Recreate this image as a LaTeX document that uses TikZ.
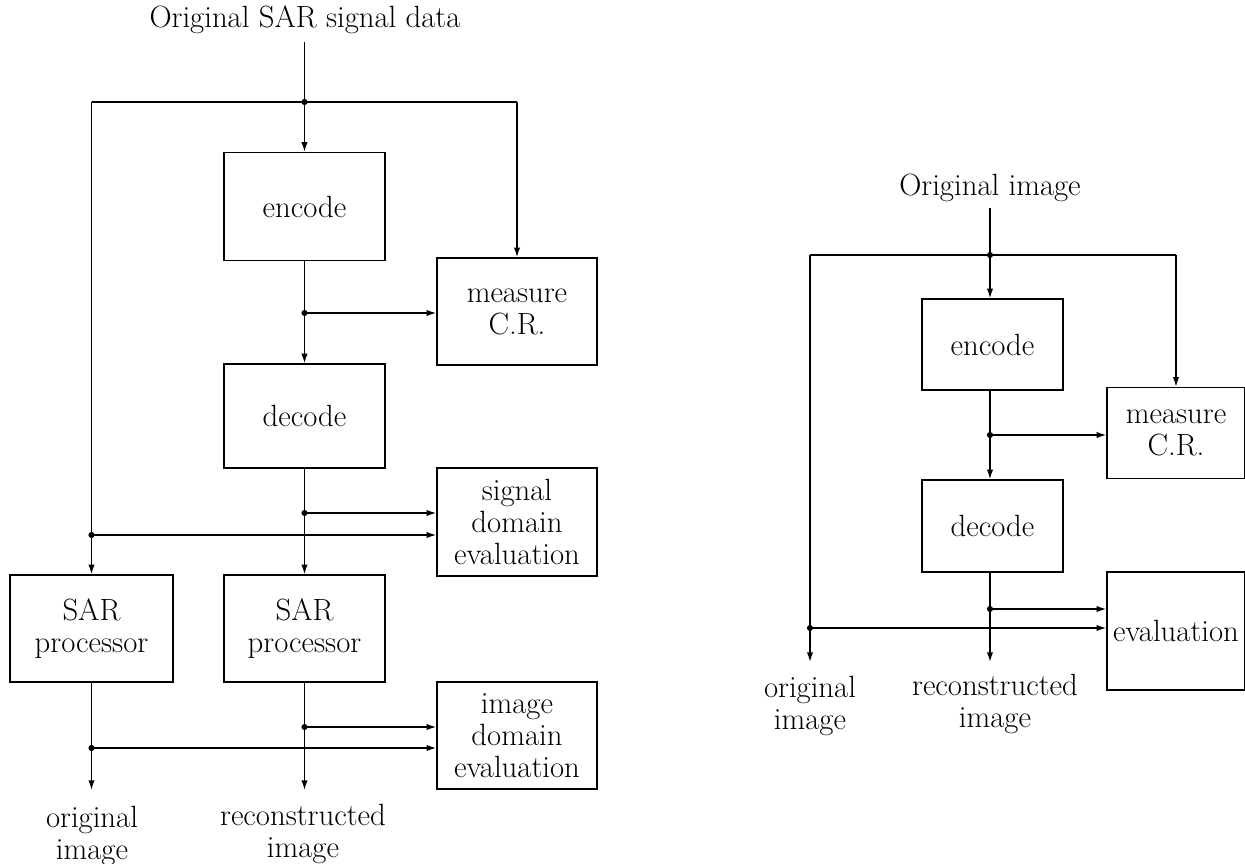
\documentclass[tikz,border=0pt]{standalone}
\usepackage{tikz}
\usetikzlibrary{arrows.meta,positioning}

\begin{document}
\begin{tikzpicture}[x=0.02cm,y=-0.02cm]
	\tikzstyle{common} = [draw, line width=0.8pt, align=center, inner sep=0.2em, font=\fontsize{17.5}{18.2}\selectfont]
	\tikzstyle{block} = [rectangle, common, minimum width=3.22cm, minimum height=2.16cm]
	\tikzstyle{sideblock} = [block, minimum width=3.2cm]
	\tikzstyle{smallblock} = [rectangle, common, minimum width=2.82cm, minimum height=1.82cm]
	\tikzstyle{txt} = [align=center, inner sep=0, font=\fontsize{17.5}{18.2}\selectfont]
	\tikzstyle{line} = [draw, line width=0.8pt, -{Latex[length=5.5pt,width=3.6pt]}]
	\tikzstyle{wire} = [draw, line width=0.8pt]
	\tikzstyle{dot} = [circle, fill, inner sep=0, minimum size=3.5pt]
	\useasboundingbox (0,0) rectangle (1245,864);

	% SAR signal data
	\node[txt] (title1) at (305,20) {Original SAR signal data};
	\node[block] (enc1) at (304.5,206.5) {encode};
	\node[sideblock, minimum height=2.14cm] (cr1) at (517,311.5) {measure\\C.R.};
	\node[block, minimum height=2.08cm] (dec1) at (304.5,416) {decode};
	\node[sideblock] (sig1) at (517,522) {signal\\domain\\evaluation};
	\node[block, minimum width=3.26cm, minimum height=2.14cm] (sarL) at (91.5,628.5) {SAR\\processor};
	\node[block, minimum height=2.14cm] (sarM) at (304.5,628.5) {SAR\\processor};
	\node[sideblock, minimum height=2.14cm] (img1) at (517,735.5) {image\\domain\\evaluation};
	\node[txt] (orig1) at (92,836) {original\\image};
	\node[txt] (rec1) at (303,834) {reconstructed\\image};

	\coordinate (s1) at (304.5,42);
	\coordinate (j1) at (304.5,102);
	\coordinate (j1l) at (91.5,102);
	\coordinate (j1r) at (517,102);
	\coordinate (j2) at (304.5,313);
	\coordinate (j3) at (304.5,513);
	\coordinate (j4) at (91.5,535);
	\coordinate (j5) at (304.5,727);
	\coordinate (j6) at (91.5,748);
	\coordinate (e1) at (91.5,790);
	\coordinate (e2) at (304.5,790);

	\draw[line] (s1) -- (enc1);
	\draw[wire] (j1l) -- (j1r);
	\draw[line] (j1r) -- (cr1);
	\draw[line] (j1l) -- (sarL);
	\draw[line] (enc1) -- (dec1);
	\draw[line] (j2) -- (cr1.west |- j2);
	\draw[line] (dec1) -- (sarM);
	\draw[line] (j3) -- (sig1.west |- j3);
	\draw[line] (j4) -- (sig1.west |- j4);
	\draw[line] (sarL) -- (e1);
	\draw[line] (sarM) -- (e2);
	\draw[line] (j5) -- (img1.west |- j5);
	\draw[line] (j6) -- (img1.west |- j6);
	\foreach \j in {j1,j2,j3,j4,j5,j6}
		\node[dot] at (\j) {};

	% image data
	\node[txt] (title2) at (990,188) {Original image};
	\node[smallblock] (enc2) at (992.5,344.5) {encode};
	\node[smallblock, minimum width=2.76cm] (cr2) at (1176,433) {measure\\C.R.};
	\node[smallblock, minimum height=1.84cm] (dec2) at (992.5,526) {decode};
	\node[smallblock, minimum width=2.76cm, minimum height=2.36cm] (ev2) at (1176,631) {evaluation};
	\node[txt] (orig2) at (810,706) {original\\image};
	\node[txt] (rec2) at (995,704) {reconstructed\\image};

	\coordinate (s2) at (990,208);
	\coordinate (k1) at (990,255);
	\coordinate (k1l) at (810,255);
	\coordinate (k1r) at (1176,255);
	\coordinate (k2) at (990,435);
	\coordinate (k3) at (990,609);
	\coordinate (k4) at (810,628);
	\coordinate (f1) at (810,662);
	\coordinate (f2) at (990,662);

	\draw[line] (s2) -- (k1 |- enc2.north);
	\draw[wire] (k1l) -- (k1r);
	\draw[line] (k1r) -- (cr2);
	\draw[line] (k1l) -- (f1);
	\draw[line] (k1 |- enc2.south) -- (k1 |- dec2.north);
	\draw[line] (k2) -- (cr2.west |- k2);
	\draw[line] (k1 |- dec2.south) -- (f2);
	\draw[line] (k3) -- (ev2.west |- k3);
	\draw[line] (k4) -- (ev2.west |- k4);
	\foreach \k in {k1,k2,k3,k4}
		\node[dot] at (\k) {};
\end{tikzpicture}
\end{document}
